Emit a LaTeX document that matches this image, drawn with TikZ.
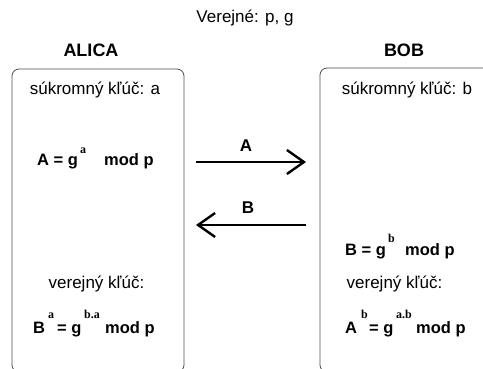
\documentclass[tikz,border=0pt]{standalone}
\usepackage{fontspec}
\setmainfont{Liberation Sans}
\newfontfamily\supfont{Liberation Serif}
\usetikzlibrary{arrows.meta}
\tikzset{
  txt/.style={inner sep=0pt, anchor=base, font=\fontsize{17}{19}\selectfont},
  ttl/.style={inner sep=0pt, anchor=base, font=\fontsize{18}{20}\selectfont\bfseries},
  fm/.style={inner sep=0pt, anchor=base west, font=\fontsize{16.5}{19}\selectfont\bfseries},
  sp/.style={inner sep=0pt, anchor=base west, font=\fontsize{12}{13}\selectfont\supfont\bfseries},
  lbl/.style={inner sep=0pt, anchor=base, font=\fontsize{17}{19}\selectfont\bfseries},
  party/.style={draw=black!70, line width=0.8pt, rounded corners=7pt},
  msg/.style={line width=2.4pt, -{Straight Barb[length=17pt, width=24pt, line width=2.4pt]}},
}
\begin{document}
\begin{tikzpicture}[x=1pt,y=-1pt]
\useasboundingbox (0,0) rectangle (483,369);
\begin{scope}
\clip (0,0) rectangle (483,369);
\draw[party] (12,69) rectangle (184,372);
\draw[party] (320,68) rectangle (500,372);
\end{scope}
\node[txt] (pub) at (245,23) {Verejné: p, g};
\node[ttl] (alica) at (91,56.5) {ALICA};
\node[ttl] (bob) at (404,56.5) {BOB};
\node[txt] (privA) at (95,95) {súkromný kľúč: a};
\node[txt] (privB) at (407,95) {súkromný kľúč: b};
\node[txt] (pubkA) at (96.5,288) {verejný kľúč:};
\node[txt] (pubkB) at (394.5,288) {verejný kľúč:};
% A = g^a mod p
\node[fm] (fa1) at (37,166) {A = g};
\node[sp] (fa2) at (80,154) {a};
\node[fm] (fa3) at (104,166) {mod p};
% B = g^b mod p
\node[fm] (fb1) at (345,255) {B = g};
\node[sp] (fb2) at (388,243) {b};
\node[fm] (fb3) at (405,255) {mod p};
% B^a = g^{b.a} mod p
\node[fm] (ka1) at (33,334) {B};
\node[sp] (ka2) at (48,318) {a};
\node[fm] (ka3) at (57,334) {= g};
\node[sp] (ka4) at (84,318) {b.a};
\node[fm] (ka5) at (105,334) {mod p};
% A^b = g^{a.b} mod p
\node[fm] (kb1) at (345,334) {A};
\node[sp] (kb2) at (361,318) {b};
\node[fm] (kb3) at (369,334) {= g};
\node[sp] (kb4) at (396,318) {a.b};
\node[fm] (kb5) at (416,334) {mod p};
% messages
\coordinate (a1) at (196,162);
\coordinate (a2) at (306,162);
\coordinate (b1) at (306,225);
\coordinate (b2) at (196,225);
\draw[msg] (a1) -- (a2);
\draw[msg] (b1) -- (b2);
\node[lbl] (la) at (246,152) {A};
\node[lbl] (lb) at (248,214) {B};
\end{tikzpicture}
\end{document}
